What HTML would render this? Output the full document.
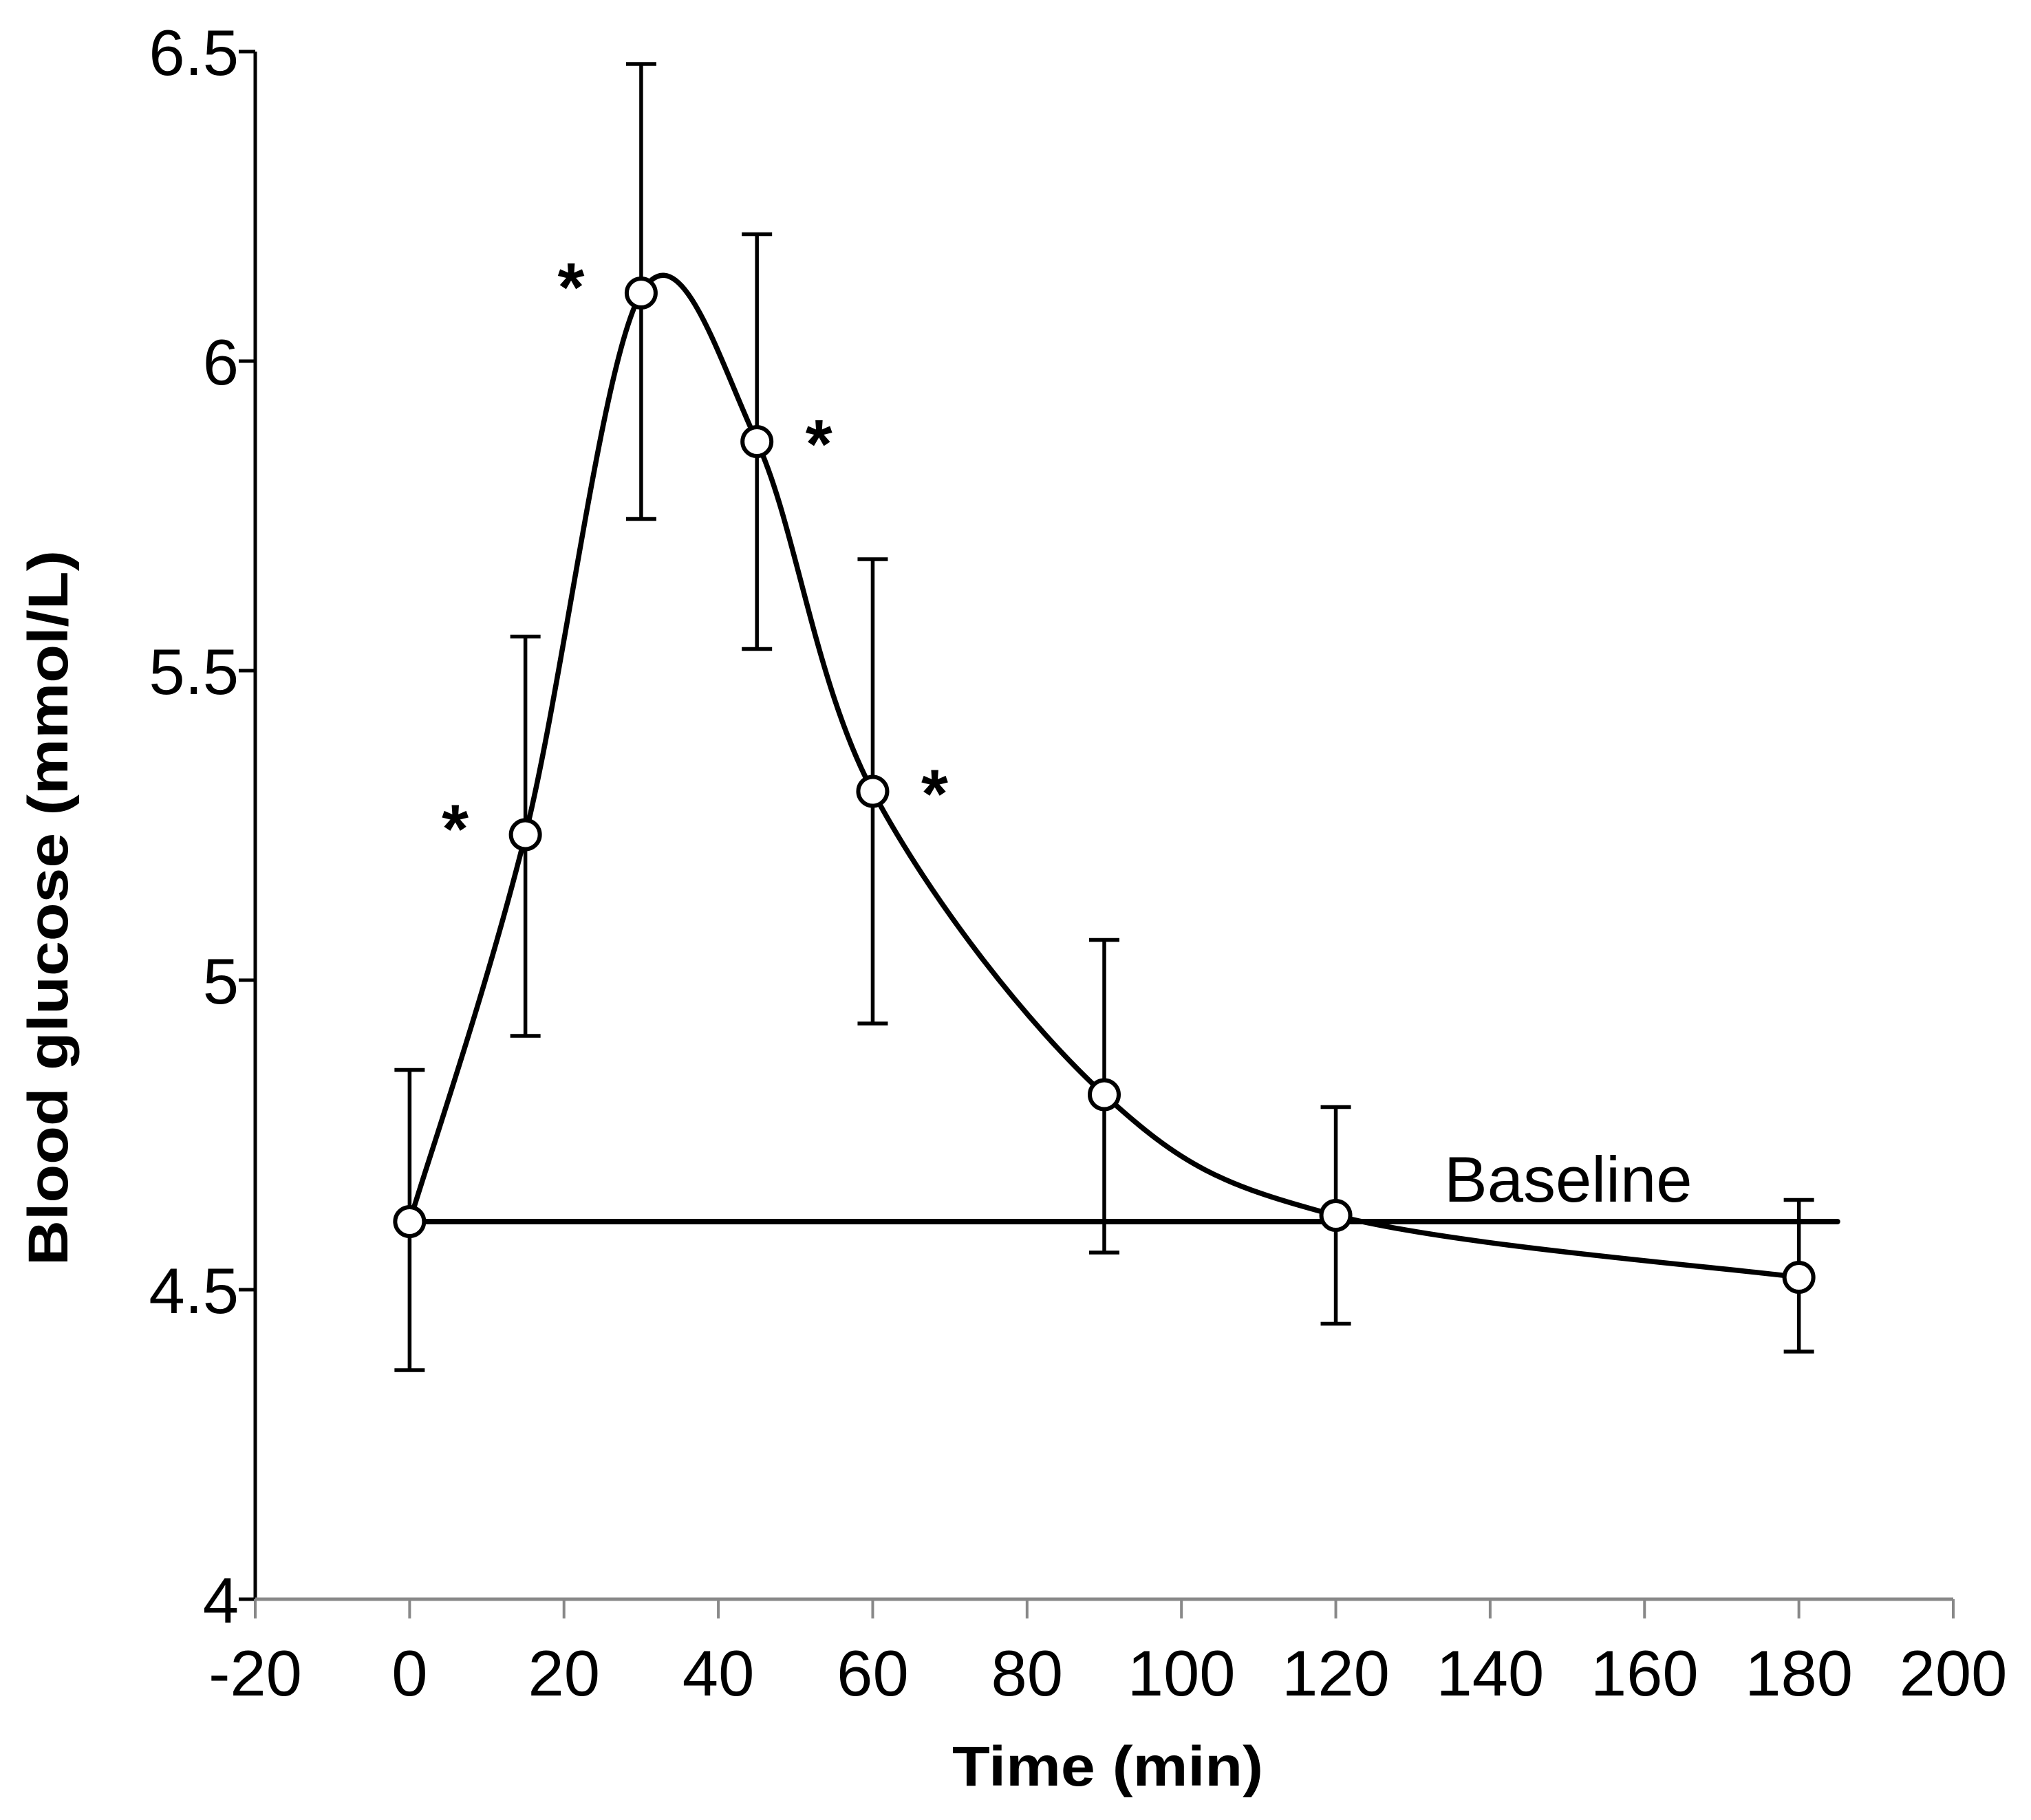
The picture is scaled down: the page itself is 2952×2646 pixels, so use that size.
<!DOCTYPE html>
<html><head><meta charset="utf-8"><style>html,body{margin:0;padding:0;background:#fff}svg{display:block}</style></head>
<body>
<svg id="chart" width="2952" height="2646" viewBox="0 0 2952 2646" xmlns="http://www.w3.org/2000/svg" font-family="'Liberation Sans', Arial, sans-serif">
<rect width="2952" height="2646" fill="#fff"/>
<g id="axes"></g>
<g id="marks"></g>
<text x="0" y="0" transform="translate(98,1320) rotate(-90)" text-anchor="middle" font-size="82" font-weight="bold" textLength="1040" lengthAdjust="spacingAndGlyphs">Blood glucose (mmol/L)</text>
<text x="1610" y="2596" text-anchor="middle" font-size="82" font-weight="bold" textLength="452" lengthAdjust="spacingAndGlyphs">Time (min)</text>
<text x="2099" y="1747" font-size="94">Baseline</text>
</svg>
<script>
const times = [0, 15, 30, 45, 60, 90, 120, 180];
const means = [4.61, 5.235, 6.11, 5.87, 5.305, 4.815, 4.62, 4.52];
const upper = [4.855, 5.555, 6.48, 6.205, 5.68, 5.065, 4.795, 4.645];
const lower = [4.37, 4.91, 5.745, 5.535, 4.93, 4.56, 4.445, 4.40];
const significant = [false, true, true, true, true, false, false, false];
const xTicks = [-20, 0, 20, 40, 60, 80, 100, 120, 140, 160, 180, 200];
const yTicks = [4, 4.5, 5, 5.5, 6, 6.5];
const yTickLabels = ["4", "4.5", "5", "5.5", "6", "6.5"];
const baselineValue = [4.61];
const baselineRange = [0, 185];

const NS = "http://www.w3.org/2000/svg";
const X = v => 371 + (v + 20) * (2468 / 220);
const Y = v => 2325 - (v - 4) * (2250 / 2.5);
function mk(tag, attrs, parent) {
  const e = document.createElementNS(NS, tag);
  for (const k in attrs) e.setAttribute(k, attrs[k]);
  parent.appendChild(e);
  return e;
}
const axes = document.getElementById('axes');
const marks = document.getElementById('marks');

let yl = mk('line', {x1: X(-20), x2: X(-20), y1: Y(6.5), y2: Y(4), stroke: '#000', 'stroke-width': 5}, axes);


yTicks.forEach((t, i) => {
  const tk = mk('line', {x1: X(-20) - 24, x2: X(-20), y1: Y(t), y2: Y(t), stroke: '#000', 'stroke-width': 5}, axes);
  
  
  const tx = mk('text', {x: X(-20) - 24, y: Y(t) + 34, 'text-anchor': 'end', 'font-size': 94}, axes);
  tx.textContent = yTickLabels[i];
  
  
});
let xl = mk('line', {x1: X(-20), x2: X(200), y1: Y(4), y2: Y(4), stroke: '#888', 'stroke-width': 5}, axes);


xTicks.forEach(t => {
  const tk = mk('line', {x1: X(t), x2: X(t), y1: Y(4), y2: Y(4) + 28, stroke: '#888', 'stroke-width': 4}, axes);
  
  
  const tx = mk('text', {x: X(t), y: Y(4) + 140, 'text-anchor': 'middle', 'font-size': 94}, axes);
  tx.textContent = String(t);
  
  
});

let bl = mk('line', {x1: X(baselineRange[0]), x2: X(baselineRange[1]), y1: Y(baselineValue[0]), y2: Y(baselineValue[0]), stroke: '#000', 'stroke-width': 8, 'stroke-linecap': 'round'}, marks);



times.forEach((t, i) => {
  const g = mk('g', {stroke: '#000', 'stroke-width': 5.5}, marks);
  
  
  mk('line', {x1: X(t), x2: X(t), y1: Y(upper[i]), y2: Y(lower[i])}, g);
  mk('line', {x1: X(t) - 22, x2: X(t) + 22, y1: Y(upper[i]), y2: Y(upper[i])}, g);
  mk('line', {x1: X(t) - 22, x2: X(t) + 22, y1: Y(lower[i]), y2: Y(lower[i])}, g);
});

const pts = times.map((t, i) => [X(t), Y(means[i])]);
let d = 'M' + pts[0][0] + ',' + pts[0][1];
const k = 1 / 6;
for (let i = 0; i < pts.length - 1; i++) {
  const p0 = pts[Math.max(0, i - 1)], p1 = pts[i], p2 = pts[i + 1], p3 = pts[Math.min(pts.length - 1, i + 2)];
  const c1 = [p1[0] + (p2[0] - p0[0]) * k, p1[1] + (p2[1] - p0[1]) * k];
  const c2 = [p2[0] - (p3[0] - p1[0]) * k, p2[1] - (p3[1] - p1[1]) * k];
  d += ' C' + c1 + ' ' + c2 + ' ' + p2;
}
let curve = mk('path', {d: d, fill: 'none', stroke: '#000', 'stroke-width': 7.5}, marks);



times.forEach((t, i) => {
  const c = mk('circle', {cx: X(t), cy: Y(means[i]), r: 21, fill: '#fff', stroke: '#000', 'stroke-width': 6}, marks);
  
  
  if (significant[i]) {
    const left = i <= 2;
    const s = mk('text', {x: X(t) + (left ? -102 : 90), y: Y(means[i]) + (left ? 26 : 38), 'text-anchor': 'middle', 'font-size': 100, 'font-weight': 'bold'}, marks);
    s.textContent = '*';
    
    
  }
});
</script>
</body></html>
